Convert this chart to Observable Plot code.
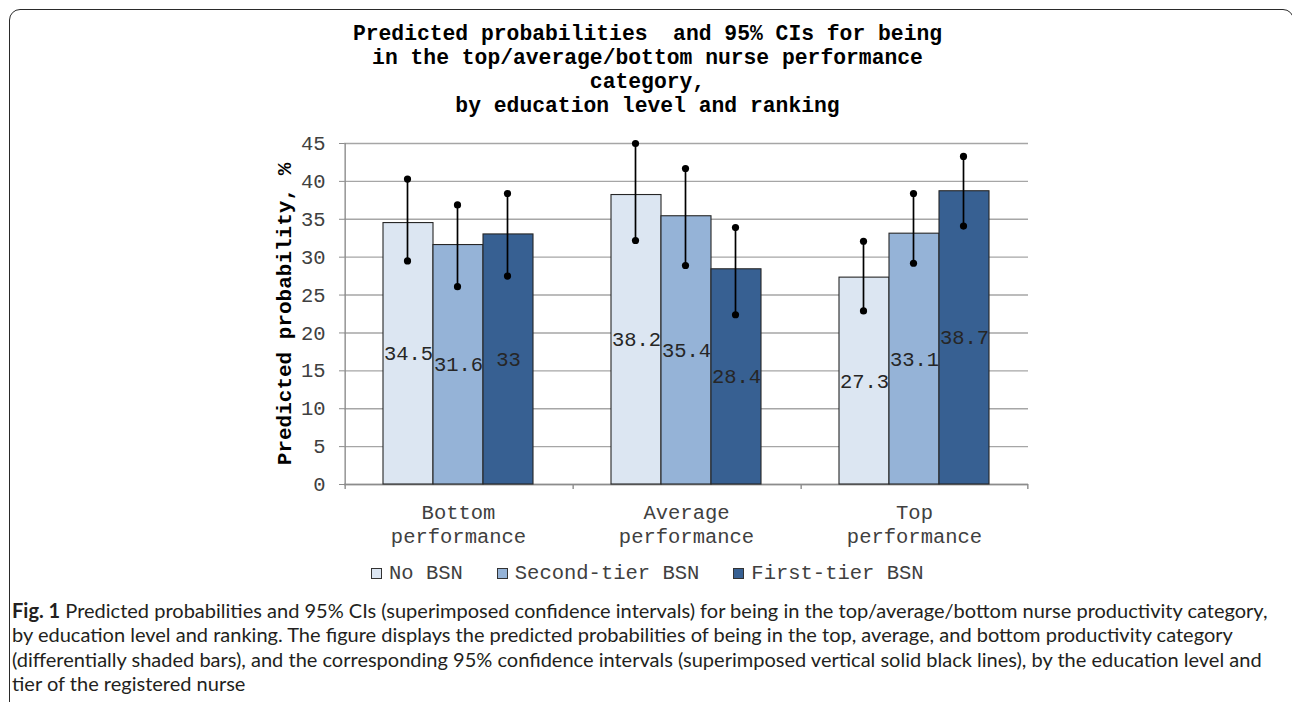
<!DOCTYPE html>
<html>
<head>
<meta charset="utf-8">
<script src="https://cdn.jsdelivr.net/npm/d3@7"></script>
<script src="https://cdn.jsdelivr.net/npm/@observablehq/plot@0.6"></script>
<style>
  html, body { margin: 0; padding: 0; background: #fff; width: 1292px; height: 702px; overflow: hidden; }
  #frame { position: absolute; left: 9px; top: 9px; width: 1285px; height: 760px; border: 1.6px solid #2a2a2a; border-radius: 11px; box-sizing: border-box; }
  #title { position: absolute; left: 0; top: 22px; width: 1295px; text-align: center; white-space: pre;
           font: bold 21.35px/24px "Liberation Mono", "Courier New", monospace; color: #000; }
  #chart { position: absolute; left: 0; top: 125px; }
  #legend { position: absolute; left: 371px; top: 561px; display: flex; align-items: center; height: 24px;
            font: 20.5px "Liberation Mono", "Courier New", monospace; color: #404040; white-space: pre; }
  #legend .item { display: flex; align-items: center; margin-right: 34px; }
  #legend .sw { width: 9px; height: 9px; border: 1px solid #333; margin-right: 7px; }
  #caption { position: absolute; left: 12px; top: 598px; font-family: Lato, "Open Sans", sans-serif; color: #231f20;
             line-height: 24.4px; white-space: nowrap; }
  #caption div { white-space: nowrap; }
</style>
</head>
<body>
<div id="frame"></div>
<div id="title"></div>
<div id="chart"></div>
<div id="legend"></div>
<div id="caption"></div>
<script>
// ---- data ----
const titleLines = [
  "Predicted probabilities  and 95% CIs for being",
  "in the top/average/bottom nurse performance",
  "category,",
  "by education level and ranking"
];
const categories = ["Bottom performance", "Average performance", "Top performance"];
const series = ["No BSN", "Second-tier BSN", "First-tier BSN"];
const colors = ["#dce6f2", "#95b3d7", "#376092"];

const noBSN      = [34.5, 38.2, 27.3];
const secondTier = [31.6, 35.4, 33.1];
const firstTier  = [33, 28.4, 38.7];

const noBSNLow       = [29.5, 32.2, 22.9];
const noBSNHigh      = [40.3, 45.0, 32.1];
const secondTierLow  = [26.1, 28.9, 29.2];
const secondTierHigh = [36.9, 41.7, 38.4];
const firstTierLow   = [27.5, 22.4, 34.1];
const firstTierHigh  = [38.4, 33.9, 43.3];

const yTicks = [0, 5, 10, 15, 20, 25, 30, 35, 40, 45];
const yLabel = "Predicted probability, %";

const captionBold = "Fig. 1";
const captionLines = [
  " Predicted probabilities and 95% CIs (superimposed confidence intervals) for being in the top/average/bottom nurse productivity category,",
  "by education level and ranking. The figure displays the predicted probabilities of being in the top, average, and bottom productivity category",
  "(differentially shaded bars), and the corresponding 95% confidence intervals (superimposed vertical solid black lines), by the education level and",
  "tier of the registered nurse"
];

// ---- table built from the arrays ----
const valuesBySeries = [noBSN, secondTier, firstTier];
const lowBySeries = [noBSNLow, secondTierLow, firstTierLow];
const highBySeries = [noBSNHigh, secondTierHigh, firstTierHigh];
const rows = [];
categories.forEach((cat, i) => {
  series.forEach((s, j) => {
    rows.push({cat, series: s, value: valuesBySeries[j][i], lo: lowBySeries[j][i], hi: highBySeries[j][i]});
  });
});

// ---- title ----
document.getElementById("title").textContent = titleLines.join("\n");

// ---- plot ----
const W = 1292, H = 420, mL = 343, mR = 263, mT = 18, mB = 61;
const outerPad = 0.742;
const facetW = (W - mL - mR) / categories.length;
const step = facetW / (series.length + 2 * outerPad);
const edge = facetW / 2 - step; // from centre of first band to facet edge
const mono = '"Liberation Mono", "Courier New", monospace';

const chart = Plot.plot({
  width: W, height: H,
  marginTop: mT, marginBottom: mB, marginLeft: mL, marginRight: mR,
  style: {fontFamily: mono, fontSize: "20.5px", background: "transparent", overflow: "visible"},
  fx: {domain: categories, padding: 0, axis: null, label: null},
  x: {domain: series, paddingInner: 0, paddingOuter: outerPad, axis: null, label: null},
  y: {domain: [0, 45], label: null},
  color: {domain: series, range: colors},
  marks: [
    Plot.gridY(yTicks, {stroke: "#a6a6a6", strokeOpacity: 1, strokeWidth: 1.4}),
    Plot.axisY(yTicks, {tickSize: 5, tickPadding: 14, stroke: "#8c8c8c", fill: "#404040", fontSize: 20.5, label: null}),
    // y axis line
    Plot.ruleX([categories[0]], {fx: d => d, x: () => series[0], y1: 0, y2: 45, dx: -edge, stroke: "#8c8c8c", strokeWidth: 1.4}),
    // baseline
    Plot.ruleY([0], {stroke: "#8c8c8c", strokeWidth: 1.4}),
    // category boundary ticks
    Plot.ruleX(categories, {fx: d => d, x: () => series[0], y1: 0, y2: 0, insetBottom: -5, dx: -edge, stroke: "#8c8c8c", strokeWidth: 1.4}),
    Plot.ruleX([categories[categories.length - 1]], {fx: d => d, x: () => series[series.length - 1], y1: 0, y2: 0, insetBottom: -5, dx: edge, stroke: "#8c8c8c", strokeWidth: 1.4}),
    // bars
    Plot.barY(rows, {fx: "cat", x: "series", y: "value", fill: "series", stroke: "#262626", strokeWidth: 1.1}),
    // value labels
    Plot.text(rows, {fx: "cat", x: "series", y: d => d.value / 2, text: d => String(d.value), fill: "#262626", fontSize: 20.5}),
    // confidence intervals
    Plot.ruleX(rows, {fx: "cat", x: "series", y1: "lo", y2: "hi", stroke: "#000", strokeWidth: 1.7, dx: -1}),
    Plot.dot(rows, {fx: "cat", x: "series", y: "lo", r: 3.6, fill: "#000", dx: -1}),
    Plot.dot(rows, {fx: "cat", x: "series", y: "hi", r: 3.6, fill: "#000", dx: -1}),
    // category labels
    Plot.text(categories, {fx: d => d, frameAnchor: "bottom", text: d => d.replace(" ", "\n"), lineAnchor: "top", lineHeight: 1.17, dy: 17, fill: "#404040", fontSize: 20.5}),
    // y axis title
    Plot.text([categories[0]], {fx: d => d, frameAnchor: "left", text: () => yLabel, rotate: -90, textAnchor: "middle", dx: -60, fontWeight: "bold", fontSize: 21, fill: "#000"})
  ]
});
document.getElementById("chart").appendChild(chart);

// ---- legend ----
const legend = document.getElementById("legend");
series.forEach((s, j) => {
  const item = document.createElement("div");
  item.className = "item";
  const sw = document.createElement("span");
  sw.className = "sw";
  sw.style.background = colors[j];
  const lab = document.createElement("span");
  lab.textContent = s;
  item.appendChild(sw);
  item.appendChild(lab);
  legend.appendChild(item);
});

// ---- caption ----
const cap = document.getElementById("caption");
captionLines.forEach((line, i) => {
  const div = document.createElement("div");
  if (i === 0) {
    const b = document.createElement("b");
    b.textContent = captionBold;
    div.appendChild(b);
  }
  div.appendChild(document.createTextNode(line));
  cap.appendChild(div);
});
// fit the font size so the first line spans the same width as in the figure
let fs = 16;
cap.style.fontSize = fs + "px";
const first = cap.firstChild;
const span = document.createElement("span");
while (first.firstChild) span.appendChild(first.firstChild);
first.appendChild(span);
const w = span.getBoundingClientRect().width;
fs = fs * 1256 / w;
cap.style.fontSize = fs.toFixed(2) + "px";
</script>
</body>
</html>
